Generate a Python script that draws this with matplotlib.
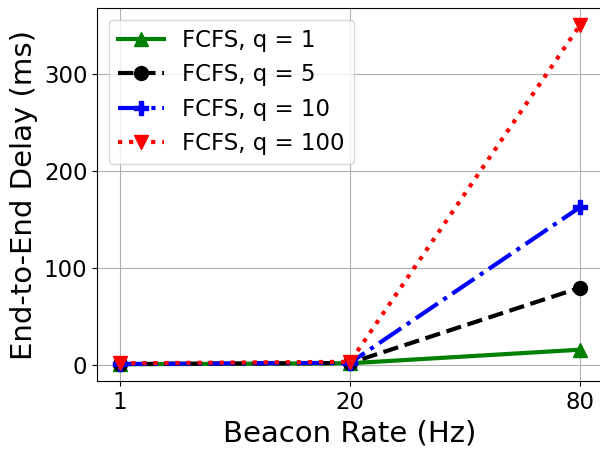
import matplotlib
matplotlib.use('Agg')
import matplotlib.pyplot as plt
from matplotlib.ticker import MultipleLocator
import numpy as np

# Data
rates = ['1', '20', '80']
delay_q1 = [1.0, 2.0, 16.0]
delay_q5 = [1.2, 2.3, 80.0]
delay_q10 = [1.3, 2.5, 163.0]
delay_q100 = [2.0, 3.5, 351.0]

x = np.arange(len(rates))

fig, ax = plt.subplots(figsize=(6, 4.49), dpi=100)
ax.plot(x, delay_q1, color='green', linestyle='-', marker='^', linewidth=3, markersize=10, label='FCFS, q = 1')
ax.plot(x, delay_q5, color='black', linestyle='--', marker='o', linewidth=3, markersize=10, label='FCFS, q = 5')
ax.plot(x, delay_q10, color='blue', linestyle='-.', marker='P', linewidth=3, markersize=10, label='FCFS, q = 10')
ax.plot(x, delay_q100, color='red', linestyle=':', marker='v', linewidth=3, markersize=10, label='FCFS, q = 100')

ax.set_xticks(x)
ax.set_xticklabels(rates)
ax.yaxis.set_major_locator(MultipleLocator(100))
ax.tick_params(labelsize=16.5)
ax.set_xlabel('Beacon Rate (Hz)', fontsize=21)
ax.set_ylabel('End-to-End Delay (ms)', fontsize=21)
ax.grid(True)
ax.legend(loc='upper left', fontsize=16.5)
fig.subplots_adjust(left=0.162, right=1.005, top=0.982, bottom=0.151)
fig.savefig('out.png', dpi=100)
